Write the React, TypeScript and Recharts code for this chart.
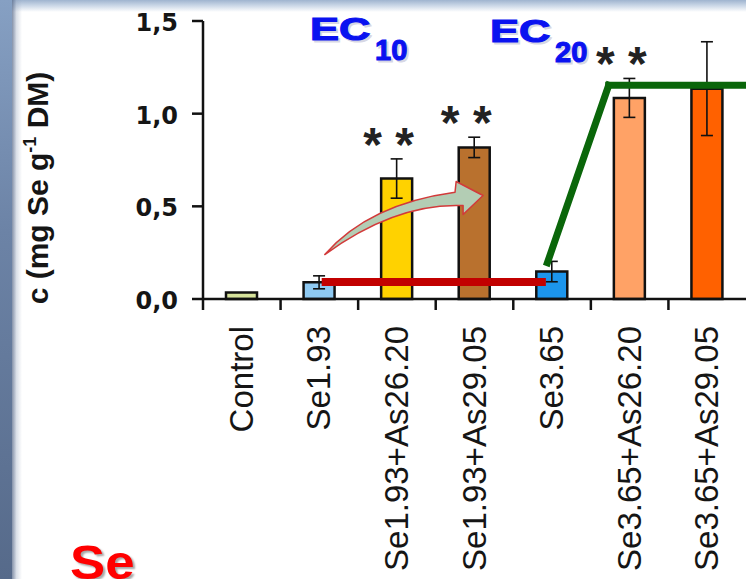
import React from 'react';
import {
  ComposedChart,
  Bar,
  XAxis,
  YAxis,
  ErrorBar,
  Cell,
  LabelList,
  Label,
  ReferenceLine,
  ReferenceDot,
} from 'recharts';

const categories = [
  'Control',
  'Se1.93',
  'Se1.93+As26.20',
  'Se1.93+As29.05',
  'Se3.65',
  'Se3.65+As26.20',
  'Se3.65+As29.05',
];
const seContent = [0.035, 0.09, 0.65, 0.818, 0.148, 1.085, 1.135];
const seError = [0, 0.035, 0.106, 0.055, 0.055, 0.105, 0.253];
const significance = ['', '', '**', '**', '', '**', ''];
const barColors = ['#d7e39b', '#8ec9f2', '#ffd200', '#b9712e', '#1c95ec', '#ffa266', '#ff6100'];
const yTicks = [0, 0.5, 1, 1.5];

// annotations, in data units (x runs 0..7 across the category bands)
const redLine = [{ x: 1.53, y: 0.092 }, { x: 4.42, y: 0.092 }];
const greenLine = [{ x: 4.44, y: 0.196 }, { x: 5.23, y: 1.153 }, { x: 7, y: 1.153 }];
const arrowBox = [{ x: 1.57, y: 0.634 }, { x: 3.61, y: 0.24 }];
const ecLabels = [
  { x: 1.38, y: 1.4, sub: '10' },
  { x: 3.7, y: 1.387, sub: '20' },
];

const data = categories.map((name, i) => ({
  name,
  pos: i + 0.5,
  value: seContent[i],
  err: seError[i],
  sig: significance[i],
}));

const CHART_W = 760;
const CHART_H = 579;
const MARGIN = { top: 21, right: 14, bottom: 0, left: 0 };
const Y_AXIS_W = 203;
const X_AXIS_H = 280;
const BAND = (CHART_W - MARGIN.left - MARGIN.right - Y_AXIS_W) / categories.length;

const ARIAL = "'Liberation Sans', Arial, sans-serif";

const XTick = (props: any) => {
  const { x, y, payload } = props;
  const left = x - BAND / 2;
  return (
    <g>
      <line x1={left} y1={y} x2={left} y2={y + 11} stroke="#111" strokeWidth={2.5} />
      <text
        transform={`translate(${x + 11},${y + 27}) rotate(-90)`}
        textAnchor="end"
        fontFamily={ARIAL}
        fontSize={33}
        fill="#151515"
      >
        {payload.value}
      </text>
    </g>
  );
};

const YTick = (props: any) => {
  const { x, y, payload } = props;
  return (
    <text
      x={x + 1}
      y={y + 10}
      textAnchor="end"
      fontFamily="'DejaVu Sans', sans-serif"
      fontWeight="bold"
      fontSize={24}
      fill="#151515"
    >
      {payload.value.toFixed(1).replace('.', ',')}
    </text>
  );
};

const YLabel = (props: any) => {
  const { viewBox } = props;
  const cx = viewBox.x + 48;
  const cy = viewBox.y + viewBox.height / 2 + 28;
  return (
    <text
      transform={`translate(${cx},${cy}) rotate(-90)`}
      textAnchor="middle"
      fontFamily={ARIAL}
      fontWeight="bold"
      fontSize={30}
      fill="#151515"
    >
      c (mg Se g
      <tspan fontSize={18} dy={-12}>-1</tspan>
      <tspan dy={12}> DM)</tspan>
    </text>
  );
};

const Stars = (props: any) => {
  const { x, y, width, height, index, value } = props;
  if (!value) return null;
  const perUnit = height / seContent[index];
  const errTop = y - seError[index] * perUnit;
  return (
    <text
      x={x + width / 2 - 8}
      y={errTop + 2}
      textAnchor="middle"
      fontFamily={ARIAL}
      fontWeight="bold"
      fontSize={48}
      fill="#222"
    >
      * *
    </text>
  );
};

// curved block arrow drawn inside the box spanned by the segment's two corners
const CurvedArrow = (props: any) => {
  const x = Math.min(props.x1, props.x2);
  const y = Math.min(props.y1, props.y2);
  const w = Math.abs(props.x2 - props.x1);
  const h = Math.abs(props.y2 - props.y1);
  const p = (u: number, v: number) => `${x + u * w},${y + v * h}`;
  const d =
    `M${p(0, 1)} Q${p(0.278, 0.308)} ${p(0.823, 0.147)} ` +
    `L${p(0.83, 0)} L${p(1, 0.192)} L${p(0.874, 0.452)} L${p(0.874, 0.33)} ` +
    `Q${p(0.45, 0.29)} ${p(0, 1)} Z`;
  return <path d={d} fill="#b3cdb4" stroke="#d23a3a" strokeWidth={1.5} strokeLinejoin="round" />;
};

const ECLabel = (props: any) => {
  const { cx, cy, sub } = props;
  const parts = (dx: number, dy: number, fill: string, opacity: number) => (
    <g opacity={opacity} stroke={fill} strokeWidth={1.1}>
      <text
        transform={`translate(${cx + dx},${cy + dy}) scale(1.36,1)`}
        fontFamily={ARIAL}
        fontWeight="bold"
        fontSize={32}
        fill={fill}
      >
        EC
      </text>
      <text
        x={cx + 65 + dx}
        y={cy + 20 + dy}
        fontFamily={ARIAL}
        fontWeight="bold"
        fontSize={29}
        fill={fill}
      >
        {sub}
      </text>
    </g>
  );
  return (
    <g>
      {parts(2, 2, '#7c7ca8', 0.3)}
      {parts(0, 0, '#0a12f0', 1)}
    </g>
  );
};

export default function App() {
  return (
    <div
      style={{
        position: 'absolute',
        left: 0,
        top: 0,
        width: 746,
        height: 579,
        overflow: 'hidden',
        background: '#ffffff',
      }}
    >
      {/* slide frame */}
      <div
        style={{
          position: 'absolute',
          left: 0,
          top: 0,
          width: 746,
          height: 12,
          background: 'linear-gradient(to bottom, #9fb4cf 0%, #c9d6e6 45%, rgba(255,255,255,0) 100%)',
        }}
      />
      <div
        style={{
          position: 'absolute',
          left: 0,
          top: 0,
          width: 12,
          height: 579,
          background: 'linear-gradient(to bottom, #86a0c3 0%, #6c83a6 40%, #566a8a 100%)',
        }}
      />
      <div
        style={{
          position: 'absolute',
          left: 12,
          top: 0,
          width: 10,
          height: 579,
          background: 'linear-gradient(to right, rgba(90,108,140,0.75) 0%, rgba(150,165,190,0.35) 45%, rgba(255,255,255,0) 100%)',
        }}
      />

      <div style={{ position: 'absolute', left: 0, top: 0 }}>
        <ComposedChart width={CHART_W} height={CHART_H} data={data} margin={MARGIN}>
          <XAxis
            dataKey="name"
            height={X_AXIS_H}
            interval={0}
            tickLine={false}
            tickSize={0}
            tickMargin={0}
            tick={<XTick />}
            axisLine={{ stroke: '#111', strokeWidth: 2.5 }}
          />
          <XAxis
            xAxisId="n"
            dataKey="pos"
            type="number"
            domain={[0, categories.length]}
            allowDataOverflow
            hide
          />
          <YAxis
            width={Y_AXIS_W}
            domain={[0, 1.5]}
            ticks={yTicks}
            interval={0}
            tickSize={11}
            tickMargin={15}
            tick={<YTick />}
            tickLine={{ stroke: '#111', strokeWidth: 2.5 }}
            axisLine={{ stroke: '#111', strokeWidth: 2.5 }}
          >
            <Label content={<YLabel />} />
          </YAxis>

          <Bar dataKey="value" barSize={31} stroke="#111" strokeWidth={2.5} isAnimationActive={false}>
            {data.map((d, i) => (
              <Cell key={d.name} fill={barColors[i]} />
            ))}
            <ErrorBar dataKey="err" width={6} stroke="#111" strokeWidth={1.6} direction="y" />
            <LabelList dataKey="sig" content={<Stars />} />
          </Bar>

          <ReferenceLine
            xAxisId="n"
            segment={arrowBox}
            ifOverflow="visible"
            shape={(p: any) => <CurvedArrow {...p} />}
          />
          <ReferenceLine
            xAxisId="n"
            segment={redLine}
            stroke="#c20000"
            strokeWidth={8}
            ifOverflow="visible"
          />
          {greenLine.slice(1).map((pt, i) => (
            <ReferenceLine
              key={i}
              xAxisId="n"
              segment={[greenLine[i], pt]}
              stroke="#0a660a"
              strokeWidth={7}
              strokeLinecap="square"
              ifOverflow="visible"
            />
          ))}
          {ecLabels.map((l) => (
            <ReferenceDot
              key={l.sub}
              xAxisId="n"
              x={l.x}
              y={l.y}
              r={0}
              ifOverflow="visible"
              shape={(p: any) => <ECLabel {...p} sub={l.sub} />}
            />
          ))}
        </ComposedChart>
      </div>

      <div
        style={{
          position: 'absolute',
          left: 70,
          top: 539,
          fontFamily: ARIAL,
          fontWeight: 'bold',
          fontSize: 48,
          lineHeight: 1,
          color: '#ff0000',
          transform: 'scaleX(1.1)',
          transformOrigin: 'left top',
          textShadow: '2px 2px 2px rgba(0,0,0,0.35)',
        }}
      >
        Se
      </div>
    </div>
  );
}
